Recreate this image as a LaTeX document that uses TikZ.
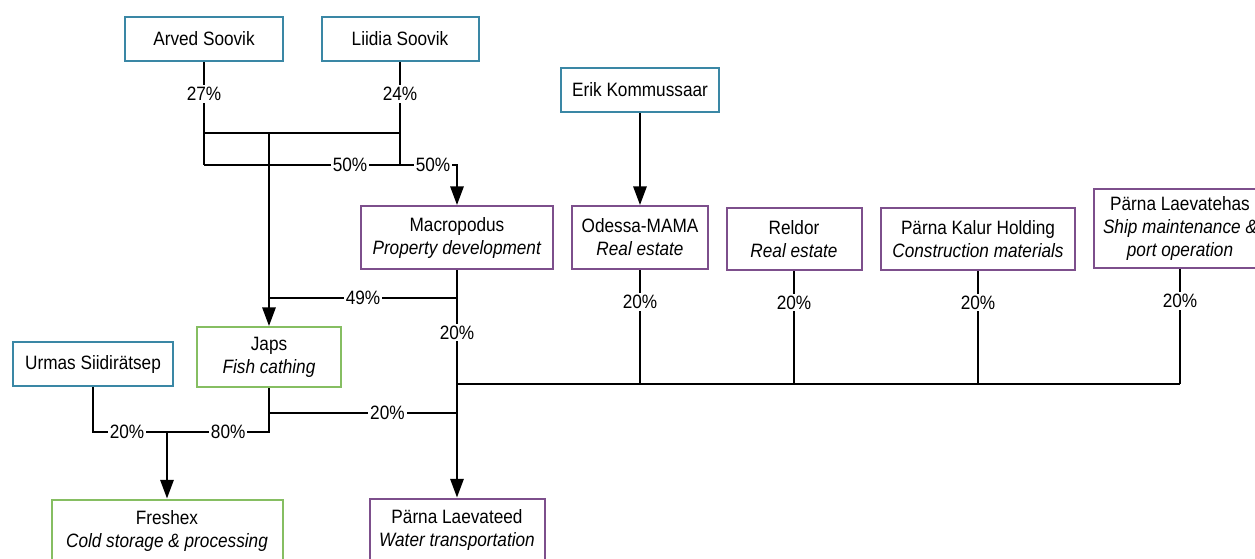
\documentclass[tikz,border=0pt]{standalone}
\usepackage{fontspec}
\setmainfont[FakeStretch=0.89]{Liberation Sans}
\usepackage{tikz}
\usepackage{xcolor}
\usetikzlibrary{arrows.meta}
\definecolor{ownerblue}{HTML}{3A87A5}
\definecolor{firmpurple}{HTML}{7D4F8C}
\definecolor{fishgreen}{HTML}{86BE62}

\begin{document}
\begin{tikzpicture}[
  x=0.75pt, y=-0.75pt,
  box/.style={draw, line width=1.5pt, fill=white, align=center, inner sep=1pt, font=\fontsize{14.5}{17.25}\selectfont},
  wd/.style={minimum width=#1*0.75pt},
  ht/.style={minimum height=#1*0.75pt},
  owner/.style={box, draw=ownerblue, ht=44},
  firm/.style={box, draw=firmpurple},
  fishery/.style={box, draw=fishgreen},
  wire/.style={line width=1.5pt},
  line/.style={wire, -{Triangle[length=14pt, width=10pt]}},
  pct/.style={fill=white, inner sep=1.5pt, font=\fontsize{14.5}{15}\selectfont}
]
\useasboundingbox (0,0) rectangle (1255,558);

% owners
\node[owner, wd=158] (arved) at (204,39) {Arved Soovik};
\node[owner, wd=157] (liidia) at (400,39) {Liidia Soovik};
\node[owner, wd=158] (erik) at (640,90) {Erik Kommussaar};
\node[owner, wd=160] (urmas) at (93,364) {Urmas Siidirätsep};

% companies
\node[firm, wd=192, ht=63] (macro) at (457,237.5) {Macropodus\\\textit{Property development}};
\node[firm, wd=136, ht=63] (odessa) at (640,237.5) {Odessa-MAMA\\\textit{Real estate}};
\node[firm, wd=135, ht=62] (reldor) at (794,239) {Reldor\\\textit{Real estate}};
\node[firm, wd=194, ht=62] (kalur) at (978,239) {Pärna Kalur Holding\\\textit{Construction materials}};
\node[firm, wd=172, ht=79] (tehas) at (1180,228.5) {Pärna Laevatehas\\\textit{Ship maintenance \&}\\\textit{port operation}};
\node[firm, wd=175, ht=63] (laevateed) at (457,530) {Pärna Laevateed\\\textit{Water transportation}};
\node[fishery, wd=144, ht=60] (japs) at (269,357) {Japs\\\textit{Fish cathing}};
\node[fishery, wd=231, ht=63] (freshex) at (167,531) {Freshex\\\textit{Cold storage \& processing}};

% joints
\coordinate (ta) at (204,133);
\coordinate (tl) at (400,133);
\coordinate (tj) at (269,133);
\coordinate (ja) at (204,165);
\coordinate (jl) at (400,165);
\coordinate (m49) at (457,298);
\coordinate (jp) at (269,413);
\coordinate (fj) at (167,432);
\coordinate (bus) at (457,384);

% Soovik holdings
\draw[wire] (arved) -- node[pct, pos=.31] {27\%} (ja);
\draw[wire] (liidia) -- node[pct, pos=.31] {24\%} (jl);
\draw[wire] (ta) -- (tl);
\draw[line] (tj) -- (japs);
\draw[line] (ja) -- node[pct, pos=.745] {50\%} (jl) -- node[pct, pos=.58] {50\%} (jl -| macro) -- (macro);

% Macropodus shares
\draw[wire] (m49) -- node[pct, pos=.5] {49\%} (m49 -| japs);
\draw[line] (macro) -- node[pct, pos=.275] {20\%} (laevateed);

% Japs and Freshex
\draw[wire] (jp) -- node[pct, pos=.63] {20\%} (jp -| laevateed);
\draw[wire] (japs) -- (japs |- fj) -- node[pct, pos=.4] {80\%} (fj);
\draw[wire] (urmas) -- (urmas |- fj) -- node[pct, pos=.46] {20\%} (fj);
\draw[line] (fj) -- (freshex);

\draw[line] (erik) -- (odessa);

% co-owners of Laevateed
\foreach \n in {odessa,reldor,kalur,tehas}
  \draw[wire] (\n) -- node[pct, pos=.28] {20\%} (\n |- bus);
\draw[wire] (bus) -- (tehas |- bus);
\end{tikzpicture}
\end{document}
